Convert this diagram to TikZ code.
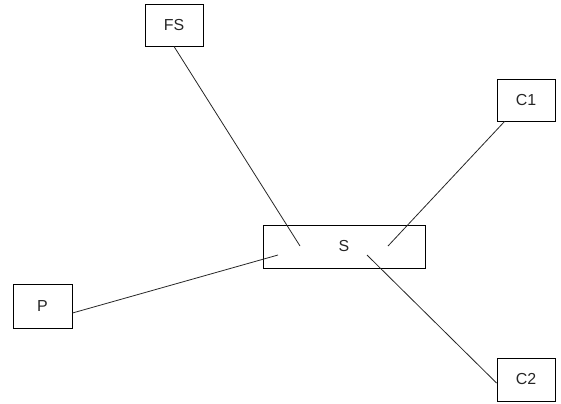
\documentclass[tikz,border=0pt]{standalone}
\usepackage{fontspec}
\setmainfont{Liberation Sans}
\usetikzlibrary{positioning}

\begin{document}
\begin{tikzpicture}[x=1bp,y=-1bp,
  box/.style={draw,line width=0.9bp,inner sep=0pt,text=black!85,
    minimum width=58bp,minimum height=42bp,font=\fontsize{16}{18}\selectfont},
  link/.style={line width=0.8bp,black!85}]
  \useasboundingbox (0,0) rectangle (561,403);

  % Central box
  \node[box,minimum width=162bp,minimum height=43bp] (s) at (344,246.5) {S};

  % Outer boxes
  \node[box] (fs) at (174,25) {FS};
  \node[box] (c1) at (526,100) {C1};
  \node[box,minimum width=59bp,minimum height=44bp] (p) at (42.5,306) {P};
  \node[box,minimum height=43bp] (c2) at (526,379.5) {C2};

  % Free ends inside S
  \coordinate (sfs) at (300,246);
  \coordinate (sc1) at (388,246);
  \coordinate (sp) at (278,255);
  \coordinate (sc2) at (367,255);

  \draw[link] (fs.south) -- (sfs);
  \draw[link] ([xshift=8bp]c1.south west) -- (sc1);
  \draw[link] ([yshift=-7bp]p.east) -- (sp);
  \draw[link] (sc2) -- ([yshift=-3.5bp]c2.west);
\end{tikzpicture}
\end{document}
